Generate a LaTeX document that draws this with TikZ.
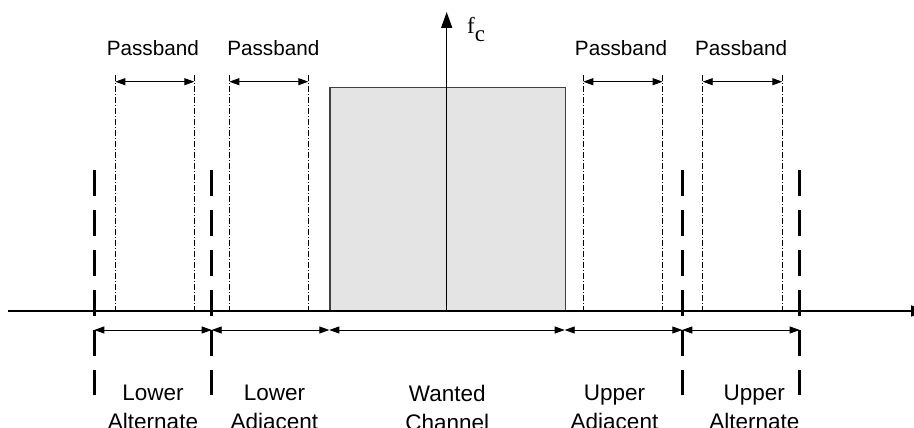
\documentclass[tikz,border=0pt]{standalone}
\usepackage{fontspec}
\setmainfont{Liberation Sans}
\newfontfamily\serifface{Liberation Serif}
\usetikzlibrary{arrows.meta}
\definecolor{wantfill}{HTML}{E4E4E4}
\definecolor{edgegray}{HTML}{404040}
\begin{document}
\begin{tikzpicture}[x=1pt,y=-1pt,
  axisline/.style={line width=1.5pt,-{Triangle[length=16pt,width=11pt]}},
  chanedge/.style={line width=2.6pt,dash pattern=on 26pt off 14pt},
  pbedge/.style={line width=0.9pt,dash pattern=on 6pt off 2pt on 1pt off 2pt},
  spanarrow/.style={line width=0.9pt,{Triangle[length=10pt,width=7pt]}-{Triangle[length=10pt,width=7pt]}},
  pblabel/.style={font=\fontsize{20.7}{24}\selectfont,anchor=base,inner sep=0pt},
  chlabel/.style={font=\fontsize{22.5}{28.7}\selectfont,align=center,anchor=north,inner sep=0pt},
  wantbox/.style={draw=edgegray,line width=1.2pt,fill=wantfill,inner sep=0pt,anchor=south west}
]
\useasboundingbox (0,0) rectangle (914,428);

% wanted channel block
\node[wantbox,minimum width=235.4pt,minimum height=222.7pt] (wanted) at (329.3,311) {};

% axes
\coordinate (origin) at (446.7,311);
\coordinate (ytop) at (446.7,12);
\coordinate (xleft) at (8,311);
\coordinate (xright) at (927,311);
\draw[axisline] (origin) -- (ytop);
\draw[axisline] (xleft) -- (xright);
\node[anchor=base west,inner sep=0pt] (fc) at (467,34) {\serifface\fontsize{23}{23}\selectfont f\raisebox{-7.7pt}{c}};

% channel boundaries (thick dashed)
\foreach \n/\x in {e0/94.3,e1/211.7,e4/682.3,e5/799.7}{
  \coordinate (\n top) at (\x,170);
  \coordinate (\n bot) at (\x,395);
  \draw[chanedge] (\n top) -- (\n bot);
}

% passband edges (dash-dot)
\foreach \n/\x in {p1/115.3,p2/194.3,p3/229.3,p4/308.3,p5/583.3,p6/662.7,p7/702.7,p8/782.3}{
  \coordinate (\n top) at (\x,75);
  \coordinate (\n bot) at (\x,311);
  \coordinate (\n arr) at (\x,81.7);
  \draw[pbedge] (\n top) -- (\n bot);
}

% passband arrows
\draw[spanarrow] (p1arr) -- (p2arr);
\draw[spanarrow] (p3arr) -- (p4arr);
\draw[spanarrow] (p5arr) -- (p6arr);
\draw[spanarrow] (p7arr) -- (p8arr);

% passband labels
\node[pblabel] (pb1) at (152.8,55.7) {Passband};
\node[pblabel] (pb2) at (273.3,55.7) {Passband};
\node[pblabel] (pb3) at (621.0,55.7) {Passband};
\node[pblabel] (pb4) at (741.2,55.7) {Passband};

% channel span arrows
\coordinate (b0) at (94.3,330);
\coordinate (b1) at (211.7,330);
\coordinate (b2) at (329.3,330);
\coordinate (b3) at (564.7,330);
\coordinate (b4) at (682.3,330);
\coordinate (b5) at (799.7,330);
\draw[spanarrow] (b0) -- (b1);
\draw[spanarrow] (b1) -- (b2);
\draw[spanarrow] (b2) -- (b3);
\draw[spanarrow] (b3) -- (b4);
\draw[spanarrow] (b4) -- (b5);

% channel labels
\node[chlabel] (lalt) at (153.0,385) {Lower\\Alternate};
\node[chlabel] (ladj) at (274.4,385) {Lower\\Adjacent};
\node[chlabel] (want) at (447.2,385) {Wanted\\Channel};
\node[chlabel] (uadj) at (614.5,385) {Upper\\Adjacent};
\node[chlabel] (ualt) at (754.3,385) {Upper\\Alternate};
\end{tikzpicture}
\end{document}
